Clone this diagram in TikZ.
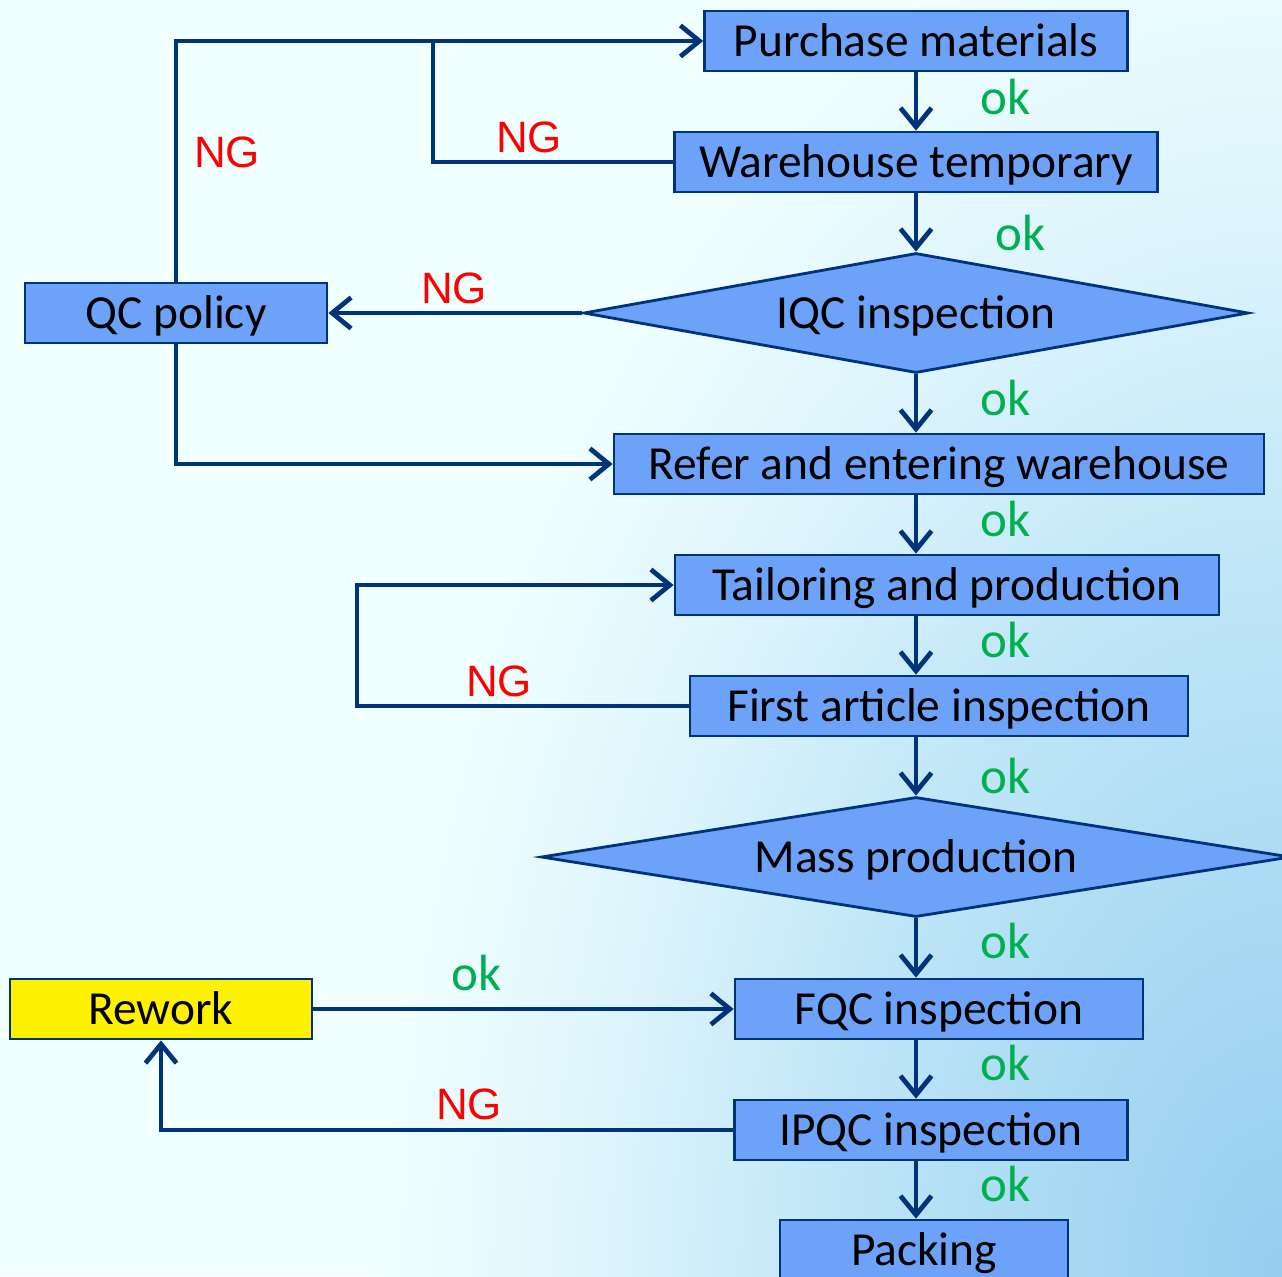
\documentclass[tikz,border=0pt]{standalone}
\usepackage{fontspec}
\setmainfont{Carlito}
\newfontfamily\ngfont{Liberation Sans}
\usetikzlibrary{shapes.geometric,arrows.meta}

\definecolor{boxblue}{HTML}{6CA2F8}
\definecolor{linblue}{HTML}{00337A}
\definecolor{okgreen}{HTML}{00B050}
\definecolor{ngred}{HTML}{FF0000}
\definecolor{bglight}{HTML}{F0FFFF}
\definecolor{bgpale}{HTML}{DCF4FC}
\definecolor{bgsoft}{HTML}{BFE6F7}
\definecolor{bgmid}{HTML}{ADDCF4}
\definecolor{bgdark}{HTML}{96CDF0}

\pgfdeclareradialshading{bgglow}{\pgfpoint{0bp}{0bp}}{color(0bp)=(bgdark); color(7.5bp)=(bgmid);
  color(12.5bp)=(bgsoft); color(18.75bp)=(bgpale); color(25bp)=(bglight); color(50bp)=(bglight)}

\tikzset{
  stepbox/.style={rectangle, draw=linblue, line width=1.6pt, fill=boxblue,
    minimum height=1.2cm, inner sep=0pt, text height=17.4pt, text depth=0pt,
    font=\fontsize{27}{32}\selectfont},
  testbox/.style={diamond, draw=linblue, line width=1.6pt, fill=boxblue,
    aspect=5.5, inner sep=0pt, minimum height=2.4cm, text height=17.4pt, text depth=0pt,
    font=\fontsize{27}{32}\selectfont},
  flow/.style={draw=linblue, line width=2.7pt, -{Straight Barb[length=3.8mm,width=6.2mm]}},
  wire/.style={draw=linblue, line width=2.7pt},
  okl/.style={text=okgreen, font=\fontsize{29}{34}\selectfont},
  ngl/.style={text=ngred, font=\ngfont\fontsize{25}{30}\selectfont},
}

\begin{document}
\begin{tikzpicture}[x=0.02cm, y=-0.02cm]
	\useasboundingbox (0,0) rectangle (1282,1276);
	\fill[bglight] (0,0) rectangle (1282,1276);
	\begin{scope}
		\clip (0,0) rectangle (1282,1276);
		\shade[shading=bgglow] (1282,1276) ellipse [x radius=900, y radius=1400];
	\end{scope}

	\node (pm) at (916,41) [stepbox, minimum width=8.46cm] {Purchase materials};
	\node (wt) at (916,162) [stepbox, minimum width=9.66cm] {Warehouse temporary};
	\node (iqc) at (916,313) [testbox, minimum width=13.3cm] {IQC inspection};
	\node (qc) at (176,313) [stepbox, minimum width=6.04cm] {QC policy};
	\node (ref) at (939,464) [stepbox, minimum width=13cm] {Refer and entering warehouse};
	\node (tp) at (947,585) [stepbox, minimum width=10.88cm] {Tailoring and production};
	\node (fa) at (939,706) [stepbox, minimum width=9.96cm] {First article inspection};
	\node (mp) at (916,857) [testbox, minimum width=15cm] {Mass production};
	\node (rw) at (161,1009) [stepbox, minimum width=6.04cm, fill=yellow] {Rework};
	\node (fqc) at (939,1009) [stepbox, minimum width=8.16cm] {FQC inspection};
	\node (ipqc) at (931,1130) [stepbox, minimum width=7.86cm] {IPQC inspection};
	\node (pk) at (924,1250) [stepbox, minimum width=5.76cm] {Packing};

	\coordinate (wtj) at (433,41);
	\coordinate (fal) at (357,706);

	% main line
	\draw[flow] (pm.south) -- (wt.north);
	\draw[flow] (wt.south) -- (iqc.north);
	\draw[flow] (iqc.south) -- (ref.north -| iqc.south);
	\draw[flow] (ref.south -| iqc.south) -- (tp.north -| iqc.south);
	\draw[flow] (tp.south -| iqc.south) -- (fa.north -| iqc.south);
	\draw[flow] (fa.south -| iqc.south) -- (mp.north);
	\draw[flow] (mp.south) -- (fqc.north -| mp.south);
	\draw[flow] (fqc.south -| mp.south) -- (ipqc.north -| mp.south);
	\draw[flow] (ipqc.south -| mp.south) -- (pk.north -| mp.south);

	% NG loops
	\draw[flow] (qc.north) |- (pm.west);
	\draw[wire] (wt.west) -| (wtj);
	\draw[flow] (iqc.west) -- (qc.east);
	\draw[flow] (qc.south) |- (ref.west);
	\draw[flow] (fa.west) -- (fal) |- (tp.west);
	\draw[flow] (rw.east) -- (fqc.west);
	\draw[flow] (ipqc.west) -| (rw.south);

	\node (ok1) at (1006,97) [okl] {ok};
	\node (ok2) at (1021,233) [okl] {ok};
	\node (ok3) at (1006,398) [okl] {ok};
	\node (ok4) at (1006,519) [okl] {ok};
	\node (ok5) at (1006,640) [okl] {ok};
	\node (ok6) at (1006,776) [okl] {ok};
	\node (ok7) at (1006,941) [okl] {ok};
	\node (ok8) at (1006,1063) [okl] {ok};
	\node (ok9) at (1006,1184) [okl] {ok};
	\node (ok10) at (477,973) [okl] {ok};

	\node (ng1) at (227,152) [ngl] {NG};
	\node (ng2) at (529,137) [ngl] {NG};
	\node (ng3) at (454,288) [ngl] {NG};
	\node (ng4) at (499,681) [ngl] {NG};
	\node (ng5) at (469,1104) [ngl] {NG};
\end{tikzpicture}
\end{document}
